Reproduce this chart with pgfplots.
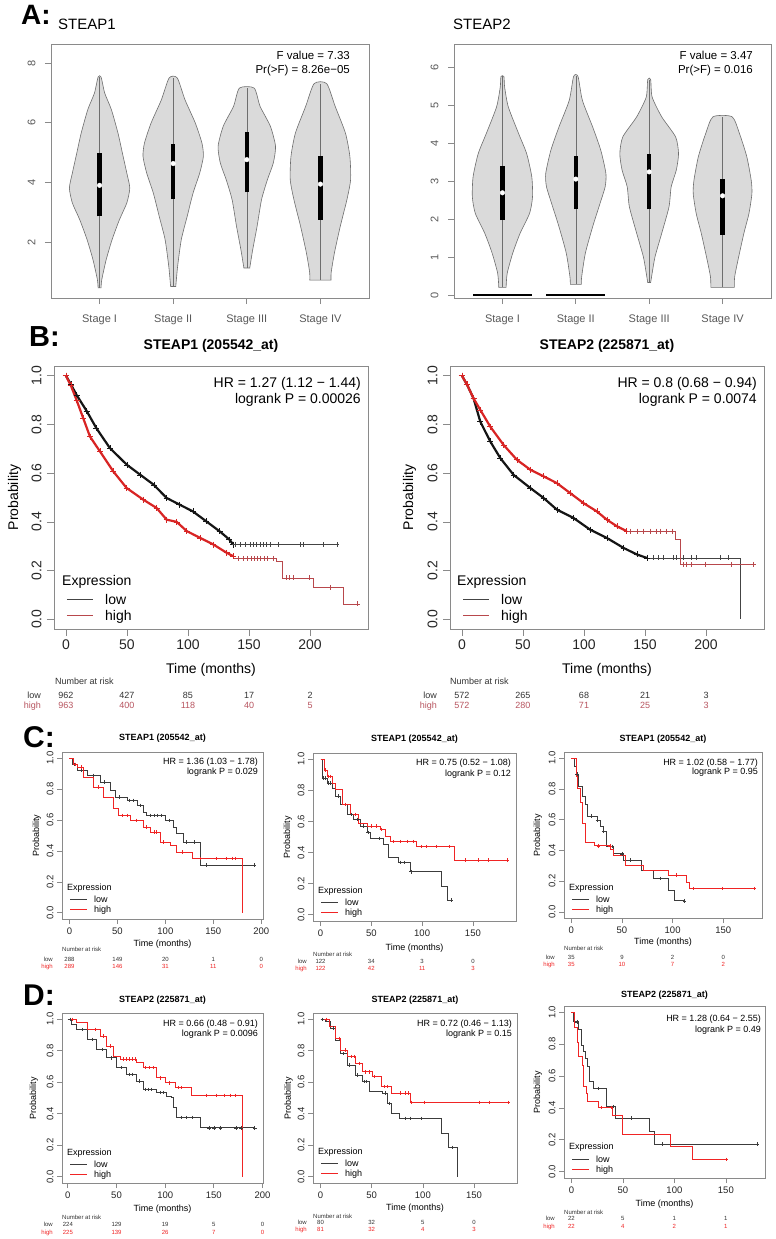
\documentclass[border=0pt]{standalone}
\usepackage{fontspec}
\setmainfont{Liberation Sans}
\usepackage{pgfplots}
\pgfplotsset{compat=1.18}

\definecolor{vfill}{HTML}{DADADA}
\definecolor{vline}{HTML}{6E6E6E}
\definecolor{boxc}{HTML}{8A8A8A}
\definecolor{kblack}{HTML}{151515}
\definecolor{kgray}{HTML}{3C3C3C}
\definecolor{kred}{HTML}{F02424}
\definecolor{kredB}{HTML}{D82424}
\definecolor{kredT}{HTML}{B8484C}
\definecolor{riskred}{HTML}{B85560}

\newcommand\fs[1]{\fontsize{#1}{#1}\selectfont}
\newcommand\rv[4][]{\node[anchor=base, inner sep=0pt, #1] at ([yshift=#2]axis cs:#3,0) {#4};}
\newcommand\legS[3]{%
 \node[anchor=base west, inner sep=0pt, font=\fs{9}] at ([xshift=5pt,yshift=#1]axis description cs:0,0) {Expression};
 \draw[kgray, line width=0.6pt] ([xshift=8pt,yshift=#2]axis description cs:0,0) -- ++(17pt,0pt);
 \draw[kred, line width=0.6pt] ([xshift=8pt,yshift=#3]axis description cs:0,0) -- ++(17pt,0pt);
 \node[anchor=base west, inner sep=0pt, font=\fs{9}] at ([xshift=32pt,yshift=#2-3pt]axis description cs:0,0) {low};
 \node[anchor=base west, inner sep=0pt, font=\fs{9}] at ([xshift=32pt,yshift=#3-3pt]axis description cs:0,0) {high};}
\newcommand\hrt[6]{%
 \node[anchor=base east, inner sep=0pt, font=\fs{#1}] at ([xshift=#2,yshift=#3]axis description cs:1,1) {#5};
 \node[anchor=base east, inner sep=0pt, font=\fs{#1}] at ([xshift=#2,yshift=#4]axis description cs:1,1) {#6};}

\pgfplotsset{
 Rbase/.style={scale only axis, clip=false, enlargelimits=false,
   axis line style={draw=boxc, line width=0.7pt}, tick style={draw=boxc, line width=0.7pt},
   tick align=outside, xtick pos=left, ytick pos=left,
   /pgf/number format/assume math mode=true,
   yticklabel style={rotate=90, anchor=south}, xticklabel style={anchor=north}},
 km/.style={Rbase, ymin=-0.04, ymax=1.04, ytick={0,0.2,0.4,0.6,0.8,1.0},
   yticklabel style={/pgf/number format/fixed, /pgf/number format/fixed zerofill, /pgf/number format/precision=1},
   xlabel={Time (months)}, ylabel={Probability},
   xlabel style={anchor=base, at={(axis description cs:0.5,0)}}, ylabel style={anchor=base}},
 kmB/.style={km, width=314pt, height=263pt, xmin=-9.8, xmax=247.5, xtick={0,50,100,150,200},
   major tick length=7pt, ticklabel style={font=\fs{14}, text=black!85}, label style={font=\fs{14}},
   yticklabel style={yshift=2pt}, xlabel style={yshift=-44pt}},
 kmS/.style={km, major tick length=5pt, ticklabel style={font=\fs{9.5}, text=black!85}, label style={font=\fs{9}}},
 vio/.style={Rbase, width=318pt, height=254pt, xmin=0.34, xmax=4.66, xtick={1,2,3,4},
   xticklabels={Stage I, Stage II, Stage III, Stage IV}, major tick length=6pt,
   ticklabel style={font=\fs{11}, text=black!65},
   xticklabel style={yshift=-7pt}, yticklabel style={yshift=6pt}},
 vshape/.style={fill=vfill, draw=vline, line width=0.6pt, smooth, tension=0.4},
 vwhisk/.style={vline, line width=0.6pt},
 vbox/.style={black, line width=4.5pt},
 vmed/.style={only marks, mark=*, mark size=2.3pt, white},
 bdense/.style={line width=2.2pt, mark=+, mark size=3pt, mark options={line width=0.6pt}},
 bmk/.style={only marks, mark=+, mark size=2.5pt, mark options={line width=0.6pt}},
 smk/.style={only marks, mark=+, mark size=1.8pt, mark options={line width=0.5pt}},
}

\begin{document}
\begin{tikzpicture}[x=1pt,y=-1pt]
\fill[white] (0,0) rectangle (776,1239);
\useasboundingbox (0,0) rectangle (776,1239);

% ---------------- Panel A ----------------
\node[anchor=base west, inner sep=0pt, font=\bfseries\fs{28}] at (21,25) {A:};
\node[anchor=base west, inner sep=0pt, font=\fs{15}] at (58,29.3) {STEAP1};
\node[anchor=base west, inner sep=0pt, font=\fs{15}] at (453,29.3) {STEAP2};

\begin{axis}[vio, at={(51pt,-298pt)}, anchor=south west, ymin=0.123, ymax=8.637, ytick={2,4,6,8}]
\addplot[vshape] coordinates {(0.98,0.46) (0.97,0.74) (0.91,1.41) (0.83,2.08) (0.73,2.75) (0.63,3.31) (0.59,3.81) (0.63,4.31) (0.69,4.98) (0.75,5.65) (0.84,6.44) (0.93,6.99) (0.98,7.53) (1.02,7.53) (1.07,6.99) (1.16,6.44) (1.25,5.65) (1.31,4.98) (1.37,4.31) (1.41,3.81) (1.37,3.31) (1.27,2.75) (1.17,2.08) (1.09,1.41) (1.03,0.74) (1.02,0.46)} --cycle;
\addplot[vshape] coordinates {(1.965,0.51) (1.94,1.18) (1.89,2.08) (1.81,2.86) (1.73,3.64) (1.64,4.31) (1.59,4.87) (1.61,5.32) (1.70,5.99) (1.84,6.77) (1.945,7.50) (2.055,7.50) (2.16,6.77) (2.30,5.99) (2.39,5.32) (2.41,4.87) (2.36,4.31) (2.27,3.64) (2.19,2.86) (2.11,2.08) (2.06,1.18) (2.035,0.51)} --cycle;
\addplot[vshape] coordinates {(2.96,1.13) (2.92,1.74) (2.86,2.53) (2.80,3.42) (2.72,4.09) (2.64,4.65) (2.61,5.21) (2.68,5.88) (2.82,6.55) (2.90,7.16) (3.10,7.16) (3.18,6.55) (3.32,5.88) (3.39,5.21) (3.36,4.65) (3.28,4.09) (3.20,3.42) (3.14,2.53) (3.08,1.74) (3.04,1.13)} --cycle;
\addplot[vshape] coordinates {(3.855,0.72) (3.855,0.96) (3.81,1.63) (3.73,2.53) (3.64,3.42) (3.59,4.09) (3.60,4.87) (3.66,5.65) (3.80,6.55) (3.915,7.31) (4.085,7.31) (4.20,6.55) (4.34,5.65) (4.40,4.87) (4.41,4.09) (4.36,3.42) (4.27,2.53) (4.19,1.63) (4.145,0.96) (4.145,0.72)} --cycle;
\addplot[vwhisk] coordinates {(1,0.46) (1,7.53)};
\addplot[vwhisk] coordinates {(2,0.51) (2,7.50)};
\addplot[vwhisk] coordinates {(3,1.13) (3,7.16)};
\addplot[vwhisk] coordinates {(4,0.72) (4,7.31)};
\addplot[vbox] coordinates {(1,2.86) (1,4.98)};
\addplot[vbox] coordinates {(2,3.44) (2,5.30)};
\addplot[vbox] coordinates {(3,3.66) (3,5.68)};
\addplot[vbox] coordinates {(4,2.75) (4,4.87)};
\addplot[vmed] coordinates {(1,3.90) (2,4.63) (3,4.76) (4,3.94)};
\hrt{11.5}{-19pt}{-15pt}{-29pt}{F value = 7.33}{Pr(>F) = 8.26e−05}
\end{axis}

\begin{axis}[vio, at={(454pt,-298pt)}, anchor=south west, width=317pt, ymin=-0.079, ymax=6.605, ytick={0,1,2,3,4,5,6}]
\addplot[vshape] coordinates {(0.95,0.20) (0.935,0.57) (0.86,1.10) (0.76,1.62) (0.63,2.15) (0.59,2.58) (0.60,3.11) (0.67,3.72) (0.78,4.25) (0.92,4.95) (0.97,5.47) (0.98,5.75) (1.02,5.75) (1.03,5.47) (1.08,4.95) (1.22,4.25) (1.33,3.72) (1.40,3.11) (1.41,2.58) (1.37,2.15) (1.24,1.62) (1.14,1.10) (1.065,0.57) (1.05,0.20)} --cycle;
\addplot[vshape] coordinates {(1.925,0.28) (1.92,0.48) (1.87,1.10) (1.77,1.80) (1.67,2.41) (1.60,2.85) (1.59,3.20) (1.66,3.81) (1.77,4.42) (1.91,5.12) (1.97,5.75) (2.03,5.75) (2.09,5.12) (2.23,4.42) (2.34,3.81) (2.41,3.20) (2.40,2.85) (2.33,2.41) (2.23,1.80) (2.13,1.10) (2.08,0.48) (2.075,0.28)} --cycle;
\addplot[vshape] coordinates {(2.98,0.33) (2.96,0.57) (2.92,1.01) (2.83,1.62) (2.73,2.32) (2.70,2.85) (2.63,3.29) (2.60,3.72) (2.64,4.16) (2.83,4.69) (2.96,5.21) (2.98,5.67) (3.02,5.67) (3.04,5.21) (3.17,4.69) (3.36,4.16) (3.40,3.72) (3.37,3.29) (3.30,2.85) (3.27,2.32) (3.17,1.62) (3.08,1.01) (3.04,0.57) (3.02,0.33)} --cycle;
\addplot[vshape] coordinates {(3.84,0.20) (3.835,0.48) (3.79,0.92) (3.71,1.62) (3.64,2.15) (3.60,2.67) (3.61,3.02) (3.67,3.64) (3.77,4.25) (3.87,4.69) (4.13,4.69) (4.23,4.25) (4.33,3.64) (4.39,3.02) (4.40,2.67) (4.36,2.15) (4.29,1.62) (4.21,0.92) (4.165,0.48) (4.16,0.20)} --cycle;
\addplot[vwhisk] coordinates {(1,0.20) (1,5.75)};
\addplot[vwhisk] coordinates {(2,0.28) (2,5.75)};
\addplot[vwhisk] coordinates {(3,0.33) (3,5.67)};
\addplot[vwhisk] coordinates {(4,0.20) (4,4.69)};
\addplot[black, line width=2.5pt] coordinates {(0.6,0) (1.4,0)};
\addplot[black, line width=2.5pt] coordinates {(1.6,0) (2.4,0)};
\addplot[vbox] coordinates {(1,1.97) (1,3.40)};
\addplot[vbox] coordinates {(2,2.26) (2,3.66)};
\addplot[vbox] coordinates {(3,2.25) (3,3.72)};
\addplot[vbox] coordinates {(4,1.58) (4,3.05)};
\addplot[vmed] coordinates {(1,2.69) (2,3.05) (3,3.24) (4,2.61)};
\hrt{11.5}{-18pt}{-15pt}{-29pt}{F value = 3.47}{Pr(>F) = 0.016}
\end{axis}

% ---------------- Panel B ----------------
\node[anchor=base west, inner sep=0pt, font=\bfseries\fs{29}] at (29,346.7) {B:};

\begin{axis}[kmB, at={(54pt,-629pt)}, anchor=south west, ylabel style={at={(axis description cs:-0.1146,0.5)}}]
\addplot[kblack, bdense] coordinates {(0,1) (4,0.965) (8.7,0.921) (17,0.855) (25,0.784) (36,0.703) (50,0.634) (61,0.593) (72,0.552) (82.5,0.498) (93,0.471) (104,0.443) (115,0.402) (126,0.361) (134,0.327) (137,0.307)};
\addplot[kblack!80, line width=0.6pt, const plot] coordinates {(137,0.307) (222.7,0.307)};
\addplot[kblack!80, bmk] coordinates {(138.5,0.307) (142.6,0.307) (146.7,0.307) (150.8,0.307) (153.5,0.307) (156.3,0.307) (159,0.307) (161.7,0.307) (164.4,0.307) (167.2,0.307) (174,0.307) (191.8,0.307) (194.5,0.307) (211,0.307) (222,0.307)};
\addplot[kredB, bdense] coordinates {(0,1) (4,0.96) (8.7,0.90) (14.2,0.825) (19.7,0.75) (27.9,0.689) (38.8,0.607) (49.7,0.539) (63.4,0.491) (74.3,0.457) (82.5,0.409) (90.7,0.40) (99,0.362) (110,0.334) (120.8,0.307) (131.7,0.273) (137,0.259)};
\addplot[kredT, line width=0.6pt, const plot] coordinates {(137,0.25) (172.7,0.237) (177.6,0.17) (202.7,0.13) (227.3,0.063) (239.6,0.063)};
\addplot[kredT, bmk] coordinates {(141,0.25) (145,0.25) (149,0.25) (151.5,0.25) (154.3,0.25) (157,0.25) (159.6,0.25) (162.4,0.25) (165,0.25) (170,0.25) (180.5,0.17) (183,0.17) (186,0.17) (199.5,0.17) (217,0.13) (239,0.063)};
\node[anchor=base, font=\bfseries\fs{14}] at ([yshift=17pt]axis description cs:0.5,1) {STEAP1 (205542\_at)};
\hrt{14}{-7pt}{-21pt}{-37pt}{HR = 1.27 (1.12 − 1.44)}{logrank P = 0.00026}
\node[anchor=base west, inner sep=0pt, font=\fs{14}] at ([xshift=8pt,yshift=44pt]axis description cs:0,0) {Expression};
\draw[kblack!80, line width=0.6pt] ([xshift=13pt,yshift=30pt]axis description cs:0,0) -- ++(26pt,0pt);
\draw[kredT, line width=0.6pt] ([xshift=13pt,yshift=14pt]axis description cs:0,0) -- ++(26pt,0pt);
\node[anchor=base west, inner sep=0pt, font=\fs{14}] at ([xshift=51pt,yshift=25pt]axis description cs:0,0) {low};
\node[anchor=base west, inner sep=0pt, font=\fs{14}] at ([xshift=51pt,yshift=9pt]axis description cs:0,0) {high};
\node[anchor=base west, inner sep=0pt, font=\fs{9}, text=black!80] at ([xshift=1pt,yshift=-65pt]axis cs:-9.8,0) {Number at risk};
\node[anchor=base east, inner sep=0pt, font=\fs{9}, text=black!80] at ([xshift=-13pt,yshift=-79pt]axis cs:-9.8,0) {low};
\node[anchor=base east, inner sep=0pt, font=\fs{9}, text=riskred] at ([xshift=-13pt,yshift=-89pt]axis cs:-9.8,0) {high};
\rv[font=\fs{9}, text=black!80]{-79pt}{0}{962}\rv[font=\fs{9}, text=black!80]{-79pt}{50}{427}\rv[font=\fs{9}, text=black!80]{-79pt}{100}{85}\rv[font=\fs{9}, text=black!80]{-79pt}{150}{17}\rv[font=\fs{9}, text=black!80]{-79pt}{200}{2}
\rv[font=\fs{9}, text=riskred]{-89pt}{0}{963}\rv[font=\fs{9}, text=riskred]{-89pt}{50}{400}\rv[font=\fs{9}, text=riskred]{-89pt}{100}{118}\rv[font=\fs{9}, text=riskred]{-89pt}{150}{40}\rv[font=\fs{9}, text=riskred]{-89pt}{200}{5}
\end{axis}

\begin{axis}[kmB, at={(450pt,-629pt)}, anchor=south west, ylabel style={at={(axis description cs:-0.1178,0.5)}}]
\addplot[kblack, bdense] coordinates {(0,1) (4,0.965) (9.5,0.907) (15,0.812) (23.2,0.73) (31.4,0.662) (42.3,0.593) (56,0.539) (66.9,0.498) (77.8,0.45) (91.4,0.416) (105,0.368) (118.7,0.334) (132.4,0.293) (143.3,0.266) (151.5,0.252)};
\addplot[kblack!80, line width=0.6pt, const plot] coordinates {(151.5,0.252) (227.9,0)};
\addplot[kblack!80, bmk] coordinates {(156.9,0.252) (161,0.252) (165,0.252) (173.2,0.252) (175.9,0.252) (181.4,0.252) (188.2,0.252) (192.3,0.252) (211.5,0.252) (218.3,0.252)};
\addplot[kredB, bdense] coordinates {(0,1) (4,0.965) (9.5,0.907) (15,0.86) (23.2,0.791) (34.1,0.716) (45,0.655) (56,0.614) (66.9,0.587) (77.8,0.559) (88.7,0.518) (99.6,0.477) (110.5,0.443) (118.7,0.409) (126.9,0.382) (135,0.362)};
\addplot[kredT, line width=0.6pt, const plot] coordinates {(135,0.362) (174.7,0.327) (179.3,0.225) (240,0.225)};
\addplot[kredT, bmk] coordinates {(137.8,0.362) (143.3,0.362) (148.7,0.362) (154.2,0.362) (159.6,0.362) (162.4,0.362) (167.8,0.362) (172,0.362) (181.5,0.225) (184.2,0.225) (188.3,0.225) (199.2,0.225) (221,0.225) (238.8,0.225)};
\node[anchor=base, font=\bfseries\fs{14}] at ([yshift=17pt]axis description cs:0.5,1) {STEAP2 (225871\_at)};
\hrt{14}{-7pt}{-21pt}{-37pt}{HR = 0.8 (0.68 − 0.94)}{logrank P = 0.0074}
\node[anchor=base west, inner sep=0pt, font=\fs{14}] at ([xshift=7pt,yshift=44pt]axis description cs:0,0) {Expression};
\draw[kblack!80, line width=0.6pt] ([xshift=13pt,yshift=30pt]axis description cs:0,0) -- ++(26pt,0pt);
\draw[kredT, line width=0.6pt] ([xshift=13pt,yshift=14pt]axis description cs:0,0) -- ++(26pt,0pt);
\node[anchor=base west, inner sep=0pt, font=\fs{14}] at ([xshift=51pt,yshift=25pt]axis description cs:0,0) {low};
\node[anchor=base west, inner sep=0pt, font=\fs{14}] at ([xshift=51pt,yshift=9pt]axis description cs:0,0) {high};
\node[anchor=base west, inner sep=0pt, font=\fs{9}, text=black!80] at ([xshift=0pt,yshift=-65pt]axis cs:-9.8,0) {Number at risk};
\node[anchor=base east, inner sep=0pt, font=\fs{9}, text=black!80] at ([xshift=-13pt,yshift=-79pt]axis cs:-9.8,0) {low};
\node[anchor=base east, inner sep=0pt, font=\fs{9}, text=riskred] at ([xshift=-13pt,yshift=-89pt]axis cs:-9.8,0) {high};
\rv[font=\fs{9}, text=black!80]{-79pt}{0}{572}\rv[font=\fs{9}, text=black!80]{-79pt}{50}{265}\rv[font=\fs{9}, text=black!80]{-79pt}{100}{68}\rv[font=\fs{9}, text=black!80]{-79pt}{150}{21}\rv[font=\fs{9}, text=black!80]{-79pt}{200}{3}
\rv[font=\fs{9}, text=riskred]{-89pt}{0}{572}\rv[font=\fs{9}, text=riskred]{-89pt}{50}{280}\rv[font=\fs{9}, text=riskred]{-89pt}{100}{71}\rv[font=\fs{9}, text=riskred]{-89pt}{150}{25}\rv[font=\fs{9}, text=riskred]{-89pt}{200}{3}
\end{axis}

% ---------------- Panel C ----------------
\node[anchor=base west, inner sep=0pt, font=\bfseries\fs{30}] at (23,747.5) {C:};

\begin{axis}[kmS, at={(62pt,-919pt)}, anchor=south west, width=201pt, height=167pt, xmin=-7.8, xmax=201.8, xtick={0,50,100,150,200}, xlabel style={yshift=-27pt}, ylabel style={at={(axis description cs:-0.1144,0.5)}}]
\addplot[kgray, line width=0.6pt, const plot] coordinates {(0,1) (3,0.96) (8,0.92) (18.3,0.888) (32.2,0.845) (42.6,0.791) (47.8,0.748) (59.9,0.727) (70.2,0.695) (77.2,0.652) (80.6,0.63) (99.7,0.598) (108.3,0.555) (111.8,0.512) (118.7,0.458) (136,0.308) (193,0.308)};
\addplot[kgray, smk] coordinates {(5,0.96) (12,0.92) (25,0.888) (36,0.845) (52,0.748) (62,0.727) (66,0.727) (74,0.695) (84,0.63) (88,0.63) (92,0.63) (96,0.63) (104,0.598) (122,0.458) (130,0.458) (143,0.308) (193,0.308)};
\addplot[kred, line width=0.6pt, const plot] coordinates {(0,1) (4,0.96) (8,0.942) (14.9,0.877) (25.3,0.813) (35.6,0.748) (46,0.673) (51.2,0.63) (63.3,0.598) (77.2,0.555) (84.1,0.523) (94.5,0.458) (104.8,0.437) (111.8,0.394) (128.4,0.351) (179.9,0)};
\addplot[kred, smk] coordinates {(6,0.96) (12,0.942) (30,0.813) (55,0.63) (60,0.63) (70,0.598) (80,0.555) (88,0.523) (90,0.523) (98,0.458) (118,0.394) (136,0.351) (153,0.351) (163,0.351) (170,0.351) (173,0.351)};
\node[anchor=base, font=\bfseries\fs{9}] at ([yshift=12pt]axis description cs:0.5,1) {STEAP1 (205542\_at)};
\hrt{9}{-5pt}{-12pt}{-22pt}{HR = 1.36 (1.03 − 1.78)}{logrank P = 0.029}
\legS{29pt}{20pt}{10pt}
\node[anchor=base west, inner sep=0pt, font=\fs{6}, text=black!80] at ([yshift=-38.2pt]axis cs:-7.8,0) {Number at risk};
\node[anchor=base east, inner sep=0pt, font=\fs{6}, text=black!80] at ([xshift=-9pt,yshift=-48.2pt]axis cs:-7.8,0) {low};
\node[anchor=base east, inner sep=0pt, font=\fs{6}, text=kred] at ([xshift=-9pt,yshift=-55.2pt]axis cs:-7.8,0) {high};
\rv[font=\fs{6}, text=black!80]{-48.2pt}{0}{288}\rv[font=\fs{6}, text=black!80]{-48.2pt}{50}{149}\rv[font=\fs{6}, text=black!80]{-48.2pt}{100}{20}\rv[font=\fs{6}, text=black!80]{-48.2pt}{150}{1}\rv[font=\fs{6}, text=black!80]{-48.2pt}{200}{0}
\rv[font=\fs{6}, text=kred]{-55.2pt}{0}{289}\rv[font=\fs{6}, text=kred]{-55.2pt}{50}{146}\rv[font=\fs{6}, text=kred]{-55.2pt}{100}{31}\rv[font=\fs{6}, text=kred]{-55.2pt}{150}{11}\rv[font=\fs{6}, text=kred]{-55.2pt}{200}{0}
\end{axis}

\begin{axis}[kmS, at={(313pt,-921pt)}, anchor=south west, width=203pt, height=168pt, xmin=-7.4, xmax=192.4, xtick={0,50,100,150}, xlabel style={yshift=-29pt}, ylabel style={at={(axis description cs:-0.113,0.5)}}]
\addplot[kgray, line width=0.6pt, const plot] coordinates {(0,1) (1.6,0.879) (6.5,0.847) (11.4,0.815) (14.7,0.762) (19.6,0.709) (26.1,0.645) (32.6,0.613) (39.1,0.57) (45.6,0.528) (48.9,0.491) (62,0.453) (66.8,0.368) (76.6,0.336) (88,0.277) (119,0.183) (124.6,0.096) (128.8,0.096)};
\addplot[kgray, smk] coordinates {(3,0.879) (5,0.879) (8,0.847) (10,0.847) (17,0.762) (30,0.645) (36,0.613) (42,0.57) (47,0.528) (58,0.491) (78,0.336) (82,0.336) (89,0.277) (128.8,0.096)};
\addplot[kred, line width=0.6pt, const plot] coordinates {(0,1) (3.3,0.932) (6.5,0.889) (11.4,0.847) (14.7,0.804) (21.2,0.709) (29.3,0.645) (37.5,0.591) (45.6,0.57) (58.7,0.549) (63.6,0.506) (68.5,0.47) (94.6,0.438) (132,0.351) (184.2,0.351)};
\addplot[kred, smk] coordinates {(5,0.932) (8,0.889) (10,0.889) (24,0.709) (34,0.645) (50,0.57) (55,0.57) (60,0.549) (72,0.47) (78,0.47) (85,0.47) (91,0.47) (99,0.438) (104,0.438) (114,0.438) (127,0.438) (142,0.351) (155,0.351) (165,0.351) (184.2,0.351)};
\node[anchor=base, font=\bfseries\fs{9}] at ([yshift=12pt]axis description cs:0.5,1) {STEAP1 (205542\_at)};
\hrt{9}{-5pt}{-12pt}{-23pt}{HR = 0.75 (0.52 − 1.08)}{logrank P = 0.12}
\legS{28pt}{19pt}{9pt}
\node[anchor=base west, inner sep=0pt, font=\fs{6}, text=black!80] at ([yshift=-42.2pt]axis cs:-7.4,0) {Number at risk};
\node[anchor=base east, inner sep=0pt, font=\fs{6}, text=black!80] at ([xshift=-6pt,yshift=-49.2pt]axis cs:-7.4,0) {low};
\node[anchor=base east, inner sep=0pt, font=\fs{6}, text=kred] at ([xshift=-6pt,yshift=-56.2pt]axis cs:-7.4,0) {high};
\rv[font=\fs{6}, text=black!80]{-49.2pt}{0}{122}\rv[font=\fs{6}, text=black!80]{-49.2pt}{50}{34}\rv[font=\fs{6}, text=black!80]{-49.2pt}{100}{3}\rv[font=\fs{6}, text=black!80]{-49.2pt}{150}{0}
\rv[font=\fs{6}, text=kred]{-56.2pt}{0}{122}\rv[font=\fs{6}, text=kred]{-56.2pt}{50}{42}\rv[font=\fs{6}, text=kred]{-56.2pt}{100}{11}\rv[font=\fs{6}, text=kred]{-56.2pt}{150}{3}
\end{axis}

\begin{axis}[kmS, at={(564pt,-918pt)}, anchor=south west, width=198pt, height=166pt, xmin=-7.2, xmax=188.2, xtick={0,50,100,150}, xlabel style={yshift=-26pt}, ylabel style={at={(axis description cs:-0.121,0.5)}}]
\addplot[kgray, line width=0.6pt, const plot] coordinates {(0,1) (2.9,0.95) (4.9,0.895) (7.2,0.819) (10.5,0.753) (13.7,0.699) (16,0.622) (25.2,0.594) (28.4,0.557) (31.7,0.524) (34.3,0.426) (41.5,0.378) (51.3,0.338) (69.3,0.273) (80.7,0.218) (95.4,0.142) (102,0.072) (111.8,0.072)};
\addplot[kgray, smk] coordinates {(5.5,0.895) (20,0.622) (26,0.594) (32,0.524) (40,0.426) (50,0.378) (58,0.338) (88,0.218) (111.8,0.072)};
\addplot[kred, line width=0.6pt, const plot] coordinates {(0,1) (4.9,0.88) (6.2,0.803) (8.8,0.71) (11.1,0.579) (13.7,0.454) (22.5,0.43) (38.2,0.404) (41.5,0.367) (52.9,0.301) (70.9,0.269) (95.4,0.24) (113.4,0.19) (116.7,0.151) (180.4,0.151)};
\addplot[kred, smk] coordinates {(26.8,0.43) (38,0.43) (103.6,0.24) (120,0.151) (149.3,0.151) (180.4,0.151)};
\node[anchor=base, font=\bfseries\fs{9}] at ([yshift=11pt]axis description cs:0.5,1) {STEAP1 (205542\_at)};
\hrt{9}{-4pt}{-13pt}{-22pt}{HR = 1.02 (0.58 − 1.77)}{logrank P = 0.95}
\legS{28pt}{19pt}{9pt}
\node[anchor=base west, inner sep=0pt, font=\fs{6}, text=black!80] at ([yshift=-39.1pt]axis cs:-7.2,0) {Number at risk};
\node[anchor=base east, inner sep=0pt, font=\fs{6}, text=black!80] at ([xshift=-9pt,yshift=-48.1pt]axis cs:-7.2,0) {low};
\node[anchor=base east, inner sep=0pt, font=\fs{6}, text=kred] at ([xshift=-9pt,yshift=-55.1pt]axis cs:-7.2,0) {high};
\rv[font=\fs{6}, text=black!80]{-48.1pt}{0}{35}\rv[font=\fs{6}, text=black!80]{-48.1pt}{50}{9}\rv[font=\fs{6}, text=black!80]{-48.1pt}{100}{2}\rv[font=\fs{6}, text=black!80]{-48.1pt}{150}{0}
\rv[font=\fs{6}, text=kred]{-55.1pt}{0}{35}\rv[font=\fs{6}, text=kred]{-55.1pt}{50}{10}\rv[font=\fs{6}, text=kred]{-55.1pt}{100}{7}\rv[font=\fs{6}, text=kred]{-55.1pt}{150}{2}
\end{axis}

% ---------------- Panel D ----------------
\node[anchor=base west, inner sep=0pt, font=\bfseries\fs{30}] at (23,1005) {D:};

\begin{axis}[kmS, at={(62pt,-1183pt)}, anchor=south west, width=201pt, height=170pt, xmin=-6, xmax=200.5, xtick={0,50,100,150,200}, xlabel style={yshift=-28pt}, ylabel style={at={(axis description cs:-0.129,0.5)}}]
\addplot[kgray, line width=0.6pt, const plot] coordinates {(0,1) (4,0.97) (9.2,0.936) (19.5,0.873) (29.7,0.809) (40,0.756) (50.2,0.693) (60.5,0.65) (70.7,0.608) (77.6,0.555) (91.3,0.534) (101.5,0.513) (106.6,0.502) (108.3,0.439) (111.8,0.375) (135.7,0.311) (192,0.311)};
\addplot[kgray, smk] coordinates {(2,1) (15,0.936) (25,0.873) (35,0.809) (45,0.756) (55,0.693) (63,0.65) (66,0.65) (73,0.608) (80,0.555) (83,0.555) (86,0.555) (95,0.534) (98,0.534) (117,0.375) (122,0.375) (128,0.375) (145,0.311) (150,0.311) (157,0.311) (173,0.311) (178,0.311) (192,0.311)};
\addplot[kred, line width=0.6pt, const plot] coordinates {(0,1) (9.2,0.979) (19.5,0.936) (33.2,0.894) (40,0.83) (46.8,0.767) (53.7,0.746) (70.7,0.725) (77.6,0.693) (91.3,0.629) (99.8,0.597) (110,0.566) (127.1,0.517) (179,0)};
\addplot[kred, smk] coordinates {(5,1) (28,0.936) (36,0.894) (44,0.83) (57,0.746) (60,0.746) (63,0.746) (66,0.746) (69,0.746) (80,0.693) (84,0.693) (88,0.693) (95,0.629) (104,0.597) (113,0.566) (117,0.566) (142,0.517) (152,0.517) (161,0.517) (167,0.517) (172,0.517)};
\node[anchor=base, font=\bfseries\fs{9}] at ([yshift=11pt]axis description cs:0.5,1) {STEAP2 (225871\_at)};
\hrt{9}{-5pt}{-13pt}{-23pt}{HR = 0.66 (0.48 − 0.91)}{logrank P = 0.0096}
\legS{28pt}{19pt}{9pt}
\node[anchor=base west, inner sep=0pt, font=\fs{6}, text=black!80] at ([yshift=-42.3pt]axis cs:-6,0) {Number at risk};
\node[anchor=base east, inner sep=0pt, font=\fs{6}, text=black!80] at ([xshift=-9pt,yshift=-49.3pt]axis cs:-6,0) {low};
\node[anchor=base east, inner sep=0pt, font=\fs{6}, text=kred] at ([xshift=-9pt,yshift=-57.3pt]axis cs:-6,0) {high};
\rv[font=\fs{6}, text=black!80]{-49.3pt}{0}{224}\rv[font=\fs{6}, text=black!80]{-49.3pt}{50}{129}\rv[font=\fs{6}, text=black!80]{-49.3pt}{100}{19}\rv[font=\fs{6}, text=black!80]{-49.3pt}{150}{5}\rv[font=\fs{6}, text=black!80]{-49.3pt}{200}{0}
\rv[font=\fs{6}, text=kred]{-57.3pt}{0}{225}\rv[font=\fs{6}, text=kred]{-57.3pt}{50}{139}\rv[font=\fs{6}, text=kred]{-57.3pt}{100}{26}\rv[font=\fs{6}, text=kred]{-57.3pt}{150}{7}\rv[font=\fs{6}, text=kred]{-57.3pt}{200}{0}
\end{axis}

\begin{axis}[kmS, at={(313pt,-1183pt)}, anchor=south west, width=204pt, height=170pt, xmin=-7.4, xmax=192, xtick={0,50,100,150}, xlabel style={yshift=-27pt}, ylabel style={at={(axis description cs:-0.108,0.5)}}]
\addplot[kgray, line width=0.6pt, const plot] coordinates {(0,1) (4.9,0.985) (9.8,0.943) (14.7,0.869) (19.7,0.784) (26.2,0.71) (34.4,0.646) (40.9,0.604) (47.5,0.54) (60.6,0.53) (65.5,0.466) (68.8,0.403) (77,0.371) (117.9,0.275) (124.5,0.186) (133.3,0)};
\addplot[kgray, smk] coordinates {(2,1) (12,0.943) (22,0.784) (28,0.71) (36,0.646) (43,0.604) (45,0.604) (63,0.53) (67,0.466) (83,0.371) (88,0.371) (98,0.371) (129,0.186)};
\addplot[kred, line width=0.6pt, const plot] coordinates {(0,1) (8.2,0.953) (14.7,0.879) (19.7,0.805) (26.2,0.763) (34.4,0.72) (40.9,0.667) (50.8,0.636) (59,0.572) (68.8,0.53) (87.8,0.472) (183.4,0.472)};
\addplot[kred, smk] coordinates {(6,1) (18,0.879) (24,0.805) (30,0.763) (33,0.763) (38,0.72) (44,0.667) (48,0.667) (52,0.636) (62,0.572) (65,0.572) (78,0.53) (83,0.53) (86,0.53) (89,0.472) (101,0.472) (155,0.472) (165,0.472) (183.4,0.472)};
\node[anchor=base, font=\bfseries\fs{9}] at ([yshift=11pt]axis description cs:0.5,1) {STEAP2 (225871\_at)};
\hrt{9}{-5pt}{-13pt}{-23pt}{HR = 0.72 (0.46 − 1.13)}{logrank P = 0.15}
\legS{29pt}{20pt}{10pt}
\node[anchor=base west, inner sep=0pt, font=\fs{6}, text=black!80] at ([yshift=-41.3pt]axis cs:-7.4,0) {Number at risk};
\node[anchor=base east, inner sep=0pt, font=\fs{6}, text=black!80] at ([xshift=-6pt,yshift=-47.3pt]axis cs:-7.4,0) {low};
\node[anchor=base east, inner sep=0pt, font=\fs{6}, text=kred] at ([xshift=-6pt,yshift=-54.3pt]axis cs:-7.4,0) {high};
\rv[font=\fs{6}, text=black!80]{-47.3pt}{0}{80}\rv[font=\fs{6}, text=black!80]{-47.3pt}{50}{32}\rv[font=\fs{6}, text=black!80]{-47.3pt}{100}{5}\rv[font=\fs{6}, text=black!80]{-47.3pt}{150}{0}
\rv[font=\fs{6}, text=kred]{-54.3pt}{0}{81}\rv[font=\fs{6}, text=kred]{-54.3pt}{50}{32}\rv[font=\fs{6}, text=kred]{-54.3pt}{100}{4}\rv[font=\fs{6}, text=kred]{-54.3pt}{150}{3}
\end{axis}

\begin{axis}[kmS, at={(564pt,-1178pt)}, anchor=south west, width=201pt, height=172pt, xmin=-7.2, xmax=188, xtick={0,50,100,150}, xlabel style={yshift=-28pt}, ylabel style={at={(axis description cs:-0.119,0.5)}}]
\addplot[kgray, line width=0.6pt, const plot] coordinates {(0,1) (1.6,0.941) (7,0.893) (9.3,0.795) (11.8,0.753) (13.4,0.711) (15,0.659) (17.6,0.569) (21.4,0.523) (33.6,0.408) (42.2,0.335) (75.8,0.251) (80.6,0.172) (180.7,0.172)};
\addplot[kgray, smk] coordinates {(5.5,0.941) (26,0.523) (41,0.408) (58,0.335) (87.8,0.172) (180.7,0.172)};
\addplot[kred, line width=0.6pt, const plot] coordinates {(0,1) (2.9,0.906) (5.4,0.81) (7,0.722) (10.2,0.669) (11.8,0.533) (14.1,0.492) (15.7,0.439) (26.2,0.404) (39.7,0.356) (49.6,0.234) (95.9,0.157) (117.4,0.077) (150,0.077)};
\addplot[kred, smk] coordinates {(29,0.404) (39,0.404) (150,0.077)};
\node[anchor=base, font=\bfseries\fs{9}] at ([yshift=9pt]axis description cs:0.5,1) {STEAP2 (225871\_at)};
\hrt{9}{-4pt}{-15pt}{-26pt}{HR = 1.28 (0.64 − 2.55)}{logrank P = 0.49}
\legS{29pt}{19pt}{9pt}
\node[anchor=base west, inner sep=0pt, font=\fs{6}, text=black!80] at ([yshift=-42.4pt]axis cs:-7.2,0) {Number at risk};
\node[anchor=base east, inner sep=0pt, font=\fs{6}, text=black!80] at ([xshift=-9pt,yshift=-48.4pt]axis cs:-7.2,0) {low};
\node[anchor=base east, inner sep=0pt, font=\fs{6}, text=kred] at ([xshift=-9pt,yshift=-56.4pt]axis cs:-7.2,0) {high};
\rv[font=\fs{6}, text=black!80]{-48.4pt}{0}{22}\rv[font=\fs{6}, text=black!80]{-48.4pt}{50}{5}\rv[font=\fs{6}, text=black!80]{-48.4pt}{100}{1}\rv[font=\fs{6}, text=black!80]{-48.4pt}{150}{1}
\rv[font=\fs{6}, text=kred]{-56.4pt}{0}{22}\rv[font=\fs{6}, text=kred]{-56.4pt}{50}{4}\rv[font=\fs{6}, text=kred]{-56.4pt}{100}{2}\rv[font=\fs{6}, text=kred]{-56.4pt}{150}{1}
\end{axis}

\end{tikzpicture}
\end{document}
